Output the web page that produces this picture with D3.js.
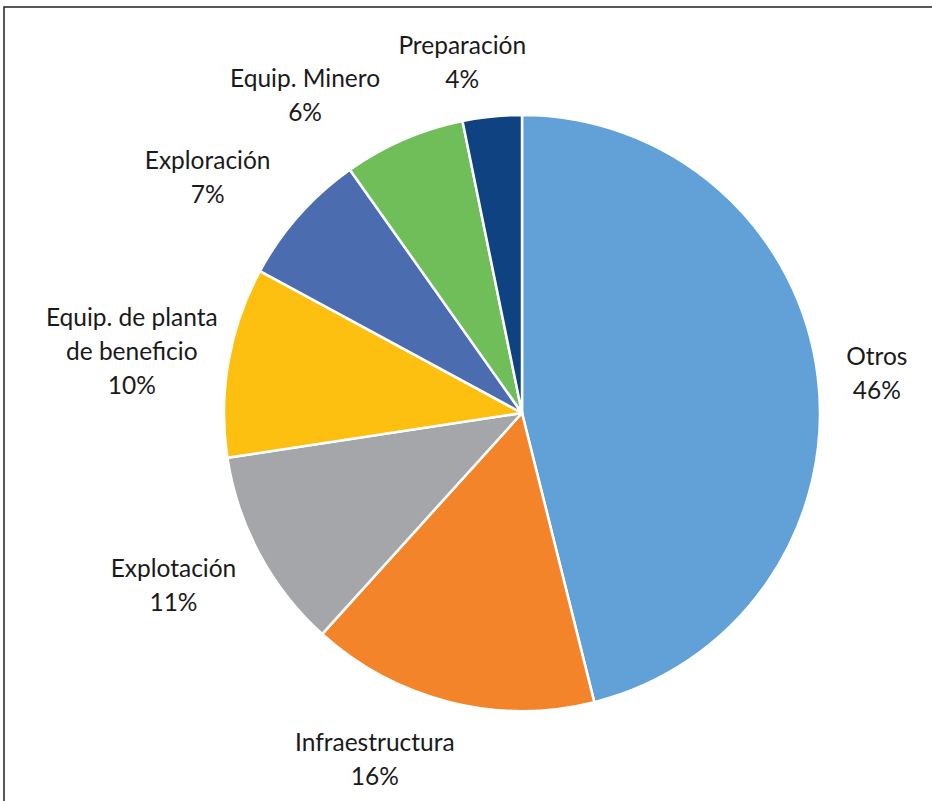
<!DOCTYPE html>
<html><head><meta charset="utf-8">
<script src="https://cdn.jsdelivr.net/npm/d3@7"></script>
<style>html,body{margin:0;padding:0;background:#fff;}svg{display:block;}</style>
</head><body>
<svg id="c" width="932" height="801"></svg>
<script>
const categories = ["Otros","Infraestructura","Explotación","Equip. de planta de beneficio","Exploración","Equip. Minero","Preparación"];
const labelLines = [["Otros"],["Infraestructura"],["Explotación"],["Equip. de planta","de beneficio"],["Exploración"],["Equip. Minero"],["Preparación"]];
const values = [46.1,15.6,10.9,10.3,7.3,6.6,3.2];
const percentLabels = ["46%","16%","11%","10%","7%","6%","4%"];
const colors = ["#62A1D8","#F4842A","#A5A6A9","#FDC010","#4B6DB0","#70BE5A","#0F4280"];

// layout (label placement relative to slice mid-angle)
const cx = 522, cy = 413, R = 298;
const labelRadius = [357,376,389,395,393,385,356];
const labelAngleShift = [0.7,9,1.9,-1.0,-4.7,-10.9,-3.9]; // degrees

const svg = d3.select("#c");
svg.append("path").attr("d","M4,801 V7 H932").attr("fill","none").attr("stroke","#222").attr("stroke-width",1.5);

const pie = d3.pie().sort(null).value(d=>d)(values);
const arc = d3.arc().innerRadius(0).outerRadius(R);
const g = svg.append("g").attr("transform",`translate(${cx},${cy})`);
g.selectAll("path").data(pie).join("path")
  .attr("d",arc).attr("fill",(d,i)=>colors[i])
  .attr("stroke","#fff").attr("stroke-width",2.5).attr("stroke-linejoin","round");

const lh = 34;
pie.forEach((d,i)=>{
  const a = (d.startAngle+d.endAngle)/2 + labelAngleShift[i]*Math.PI/180;
  const x = Math.sin(a)*labelRadius[i], y = -Math.cos(a)*labelRadius[i];
  const lines = labelLines[i].concat([percentLabels[i]]);
  const t = g.append("text").attr("text-anchor","middle")
    .attr("font-family","Lato, 'Open Sans', sans-serif").attr("font-size",24.5).attr("fill","#1a1a1a");
  const y0 = y - (lines.length-1)*lh/2;
  lines.forEach((s,k)=>{
    t.append("tspan").attr("x",x).attr("y",y0+k*lh).attr("dy","0.35em").text(s);
  });
});
</script>
</body></html>
